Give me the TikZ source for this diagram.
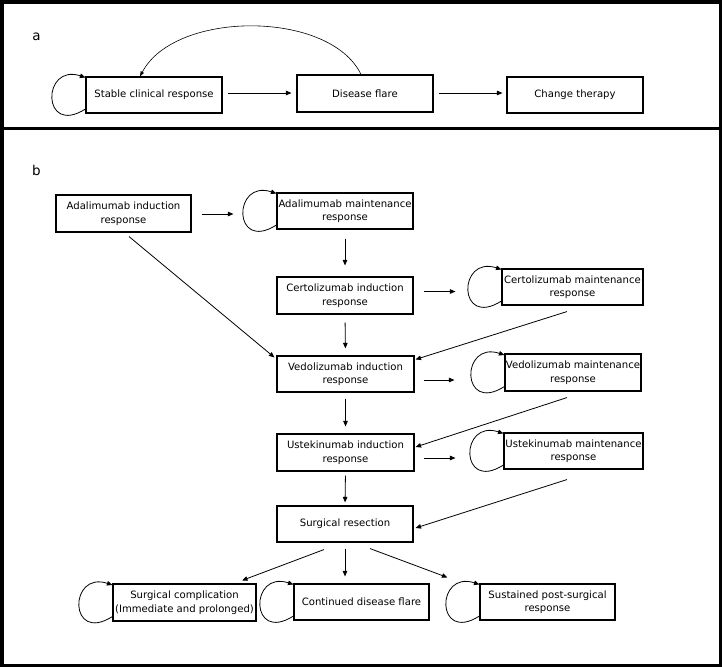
\documentclass[tikz,border=0pt]{standalone}
\usepackage{fontspec}
\setmainfont{DejaVu Sans}
\usetikzlibrary{arrows.meta}
\begin{document}
\begin{tikzpicture}[x=1pt,y=-1pt,
  box/.style={draw, line width=1.1pt, inner sep=0pt, align=center,
    font=\fontsize{10.1}{13.5}\selectfont, minimum height=36pt},
  arr/.style={-{Triangle[length=5.5pt,width=4.5pt]}, line width=0.8pt},
  thinarr/.style={-{Triangle[length=5pt,width=3.5pt]}, line width=0.6pt},
  selfloop/.style={to path={.. controls +(-44,28) and +(-44,-14.5) .. (\tikztotarget)}},
  panel/.style={font=\fontsize{13.5}{15}\selectfont, inner sep=0pt},
  frame/.style={line width=3.5pt}]
\useasboundingbox (0,0) rectangle (722,667);
% frame
\draw[frame] (1.75,1.75) rectangle (720.25,665.25);
\draw[frame] (0,128.5) -- (722,128.5);
% panel a
\node[panel] (la) at (36.5,37) {a};
\node[box, minimum width=136pt] (stable) at (154,95) {Stable clinical response};
\node[box, minimum width=136pt, minimum height=37pt] (flare) at (365,93.5) {Disease flare};
\node[box, minimum width=136pt] (change) at (575,95) {Change therapy};
\path ([yshift=2pt]stable.east) coordinate (sa);
\draw[arr, shorten <=5pt, shorten >=5pt] (sa) -- (sa -| flare.west);
\path ([yshift=0.5pt]flare.east) coordinate (fa);
\draw[arr, shorten <=5pt, shorten >=4pt] (fa) -- (fa -| change.west);
\draw[thinarr] ([xshift=-4pt]flare.north) .. controls (330,10) and (175,10) .. ([xshift=-14pt]stable.north);
\draw[arr] ([yshift=-14pt]stable.west) to[selfloop] ([yshift=17.5pt]stable.west);
% panel b
\node[panel] (lb) at (36.5,170) {b};
\node[box, minimum width=135pt, minimum height=37pt] (adi) at (123.5,213.5) {Adalimumab induction\\response};
\node[box, minimum width=136pt] (adm) at (345,211) {Adalimumab maintenance\\response};
\node[box, minimum width=136pt, minimum height=37pt] (cii) at (345,295.5) {Certolizumab induction\\response};
\node[box, minimum width=141pt] (cim) at (572.5,287) {Certolizumab maintenance\\response};
\node[box, minimum width=137pt] (vii) at (345.5,374) {Vedolizumab induction\\response};
\node[box, minimum width=136pt, minimum height=37pt] (vim) at (573,372.5) {Vedolizumab maintenance\\response};
\node[box, minimum width=137pt, minimum height=37pt] (uii) at (345.5,452.5) {Ustekinumab induction\\response};
\node[box, minimum width=139pt] (uim) at (573.5,451) {Ustekinumab maintenance\\response};
\node[box, minimum width=136pt] (sr) at (345,524) {Surgical resection};
\node[box, minimum width=143pt, minimum height=37pt] (sc) at (184.5,602.5) {Surgical complication\\(Immediate and prolonged)};
\node[box, minimum width=135pt] (cdf) at (361.5,602) {Continued disease flare};
\node[box, minimum width=135pt] (spr) at (547.5,602) {Sustained post-surgical\\response};
% horizontal arrows
\path ([yshift=-0.5pt]adi.east) coordinate (h1);
\draw[arr, shorten <=10pt, shorten >=43pt] (h1) -- (h1 -| adm.west);
\path ([yshift=4pt]cii.east) coordinate (h2);
\draw[arr, shorten <=10pt, shorten >=46pt] (h2) -- (h2 -| cim.west);
\path ([yshift=-6pt]vii.east) coordinate (h3);
\draw[arr, shorten <=9pt, shorten >=50pt] (h3) -- (h3 -| vim.west);
\path ([yshift=-5.5pt]uii.east) coordinate (h4);
\draw[arr, shorten <=9pt, shorten >=48pt] (h4) -- (h4 -| uim.west);
% vertical arrows
\draw[arr, shorten <=9pt, shorten >=11pt] (adm.south) -- (cii.north);
\draw[arr, shorten <=8pt, shorten >=7pt] (cii.south) -- (vii.north);
\draw[arr, shorten <=6pt, shorten >=7pt] (vii.south) -- (uii.north);
\draw[arr, shorten <=4pt, shorten >=3pt] (uii.south) -- (sr.north);
\draw[arr, shorten <=6pt, shorten >=7pt] (sr.south) -- (sr.south |- cdf.north);
% diagonal arrows
\draw[arr] ([shift={(5.5pt,-4pt)}]adi.south) -- ([shift={(-2pt,-2pt)}]vii.north west);
\draw[arr] ([shift={(-5.5pt,-6pt)}]cim.south) -- ([shift={(1pt,-4pt)}]vii.north east);
\draw[arr] ([shift={(-6pt,-6pt)}]vim.south) -- ([shift={(1pt,5.5pt)}]uii.east);
\draw[arr] ([shift={(-6.5pt,-10pt)}]uim.south) -- ([shift={(2pt,-4pt)}]sr.east);
\draw[arr] ([shift={(-21pt,-7pt)}]sr.south) -- ([shift={(57.5pt,3pt)}]sc.north);
\draw[arr] ([shift={(25pt,-6pt)}]sr.south) -- ([shift={(-32pt,6pt)}]spr.north west);
% self loops
\foreach \n in {adm,cim,vim,uim,sc,cdf,spr}
  \draw[arr] ([yshift=-14pt]\n.west) to[selfloop] ([yshift=17.5pt]\n.west);
\end{tikzpicture}
\end{document}
